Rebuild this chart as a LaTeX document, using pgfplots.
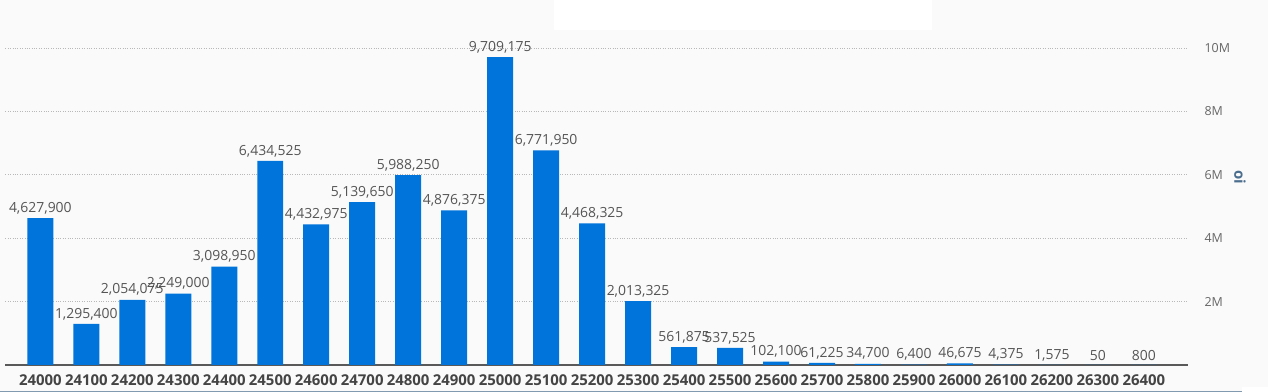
\documentclass[border=0pt]{standalone}
\usepackage{pgfplots}
\pgfplotsset{compat=1.18}
\usepackage{pgfplotstable}
\usepackage{fontspec}
\setmainfont{Open Sans}
\definecolor{barblue}{HTML}{0074DB}
\definecolor{bg}{HTML}{FAFAFA}
\definecolor{lblgray}{HTML}{555555}
\definecolor{tickdark}{HTML}{444444}
\definecolor{ylabblue}{HTML}{4C6E8E}
\pgfplotstableread{
x y lab
0 4627900 4,627,900
1 1295400 1,295,400
2 2054075 2,054,075
3 2249000 2,249,000
4 3098950 3,098,950
5 6434525 6,434,525
6 4432975 4,432,975
7 5139650 5,139,650
8 5988250 5,988,250
9 4876375 4,876,375
10 9709175 9,709,175
11 6771950 6,771,950
12 4468325 4,468,325
13 2013325 2,013,325
14 561875 561,875
15 537525 537,525
16 102100 102,100
17 61225 61,225
18 34700 34,700
19 6400 6,400
20 46675 46,675
21 4375 4,375
22 1575 1,575
23 50 50
24 800 800
}\datatable
\begin{document}
\begin{tikzpicture}
\fill[bg] (-5bp,-27bp) rectangle (1263bp,365bp);
\fill[white] (1237bp,-27bp) rectangle (1263bp,-22bp);
\draw[ylabblue!70, line width=0.8bp] (-5bp,-26.5bp) -- (1237bp,-26.5bp);
\fill[white] (549bp,335bp) rectangle (927bp,365bp);
\begin{axis}[
  at={(0,0)}, anchor=south west,
  scale only axis,
  width=1183bp, height=317bp,
  xmin=-0.76, xmax=24.96,
  ymin=0, ymax=10000000,
  axis x line*=bottom,
  axis y line*=right,
  x axis line style={draw=black!65, line width=2bp, -},
  y axis line style={draw=none},
  major tick length=0pt,
  xtick=data,
  xticklabels={24000,24100,24200,24300,24400,24500,24600,24700,24800,24900,25000,25100,25200,25300,25400,25500,25600,25700,25800,25900,26000,26100,26200,26300,26400},
  xticklabel style={font=\fontsize{15}{17}\selectfont\bfseries, text=tickdark, yshift=-6bp},
  ytick={2000000,4000000,6000000,8000000,10000000},
  yticklabels={2M,4M,6M,8M,10M},
  yticklabel style={font=\fontsize{12.5}{14}\selectfont, text=black!60, xshift=13bp},
  scaled y ticks=false,
  ymajorgrids,
  grid style={draw=black!28, dotted, line width=0.6bp},
  ylabel={oi},
  ylabel style={at={(rel axis cs:1,0.593)}, anchor=center, yshift=-52bp, rotate=180, font=\fontsize{15}{17}\selectfont\bfseries, text=ylabblue},
  clip=false,
]
\addplot[ybar, bar width=26bp, fill=barblue, draw=none,
  nodes near coords, point meta=explicit symbolic,
  nodes near coords style={font=\fontsize{14}{16}\selectfont, text=lblgray, anchor=south, yshift=0.5bp}]
  table[x=x, y=y, meta=lab] {\datatable};
\end{axis}
\end{tikzpicture}
\end{document}
